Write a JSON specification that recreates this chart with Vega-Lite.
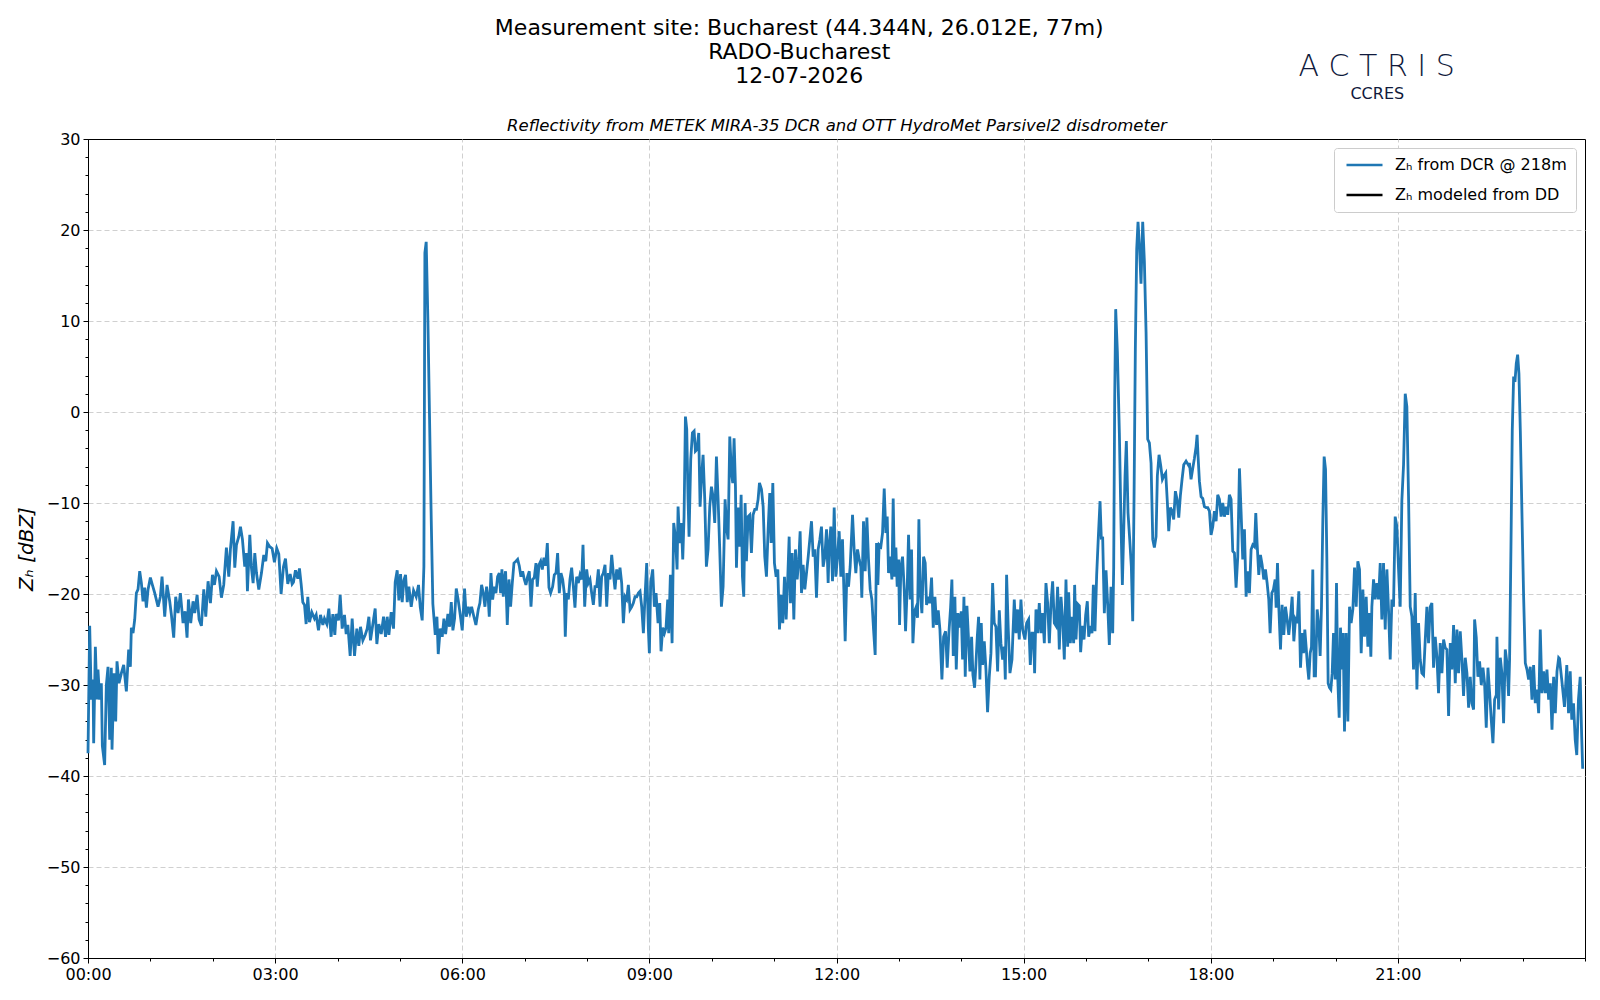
{
  "$schema": "https://vega.github.io/schema/vega-lite/v6.json",
  "width": 1497,
  "height": 819,
  "autosize": {"type": "none"},
  "padding": {"left": 88, "top": 139, "right": 15, "bottom": 42},
  "background": "white",
  "config": {
    "font": "DejaVu Sans",
    "view": {"stroke": "black", "strokeWidth": 1},
    "axis": {"labelFont": "DejaVu Sans", "titleFont": "DejaVu Sans", "labelColor": "black", "titleColor": "black", "domainColor": "black", "tickColor": "black"}
  },
  "title": {
    "text": ["Measurement site: Bucharest (44.344N, 26.012E, 77m)", "RADO-Bucharest", "12-07-2026"],
    "anchor": "middle",
    "frame": "bounds",
    "fontSize": 22,
    "fontWeight": "normal",
    "font": "DejaVu Sans",
    "color": "black",
    "lineHeight": 24,
    "offset": -36,
    "dx": -3
  },
  "data": {"values": [
{"h":0.000,"z":-37.5},{"h":0.027,"z":-23.5},{"h":0.053,"z":-31.6},{"h":0.080,"z":-29.4},{"h":0.091,"z":-36.4},{"h":0.118,"z":-25.8},{"h":0.144,"z":-31.6},{"h":0.160,"z":-28.3},{"h":0.187,"z":-31.6},{"h":0.214,"z":-29.8},{"h":0.230,"z":-36.7},{"h":0.267,"z":-38.8},{"h":0.294,"z":-30},{"h":0.321,"z":-28},{"h":0.348,"z":-36},{"h":0.374,"z":-28.1},{"h":0.385,"z":-37.1},{"h":0.417,"z":-28.7},{"h":0.444,"z":-34},{"h":0.465,"z":-27.4},{"h":0.497,"z":-29.8},{"h":0.535,"z":-28.7},{"h":0.572,"z":-27.8},{"h":0.615,"z":-30.7},{"h":0.652,"z":-26.1},{"h":0.679,"z":-28},{"h":0.695,"z":-23.7},{"h":0.722,"z":-24.3},{"h":0.749,"z":-22.8},{"h":0.775,"z":-19.9},{"h":0.802,"z":-19.5},{"h":0.829,"z":-17.5},{"h":0.856,"z":-18.8},{"h":0.882,"z":-20.8},{"h":0.909,"z":-19.3},{"h":0.936,"z":-21.5},{"h":0.963,"z":-19.5},{"h":1.000,"z":-18.2},{"h":1.032,"z":-19},{"h":1.070,"z":-19.9},{"h":1.123,"z":-21.4},{"h":1.160,"z":-20.3},{"h":1.187,"z":-18.1},{"h":1.230,"z":-22.5},{"h":1.267,"z":-19},{"h":1.310,"z":-20.8},{"h":1.337,"z":-22.3},{"h":1.374,"z":-24.8},{"h":1.406,"z":-20.3},{"h":1.444,"z":-22.1},{"h":1.481,"z":-19.9},{"h":1.524,"z":-23.2},{"h":1.556,"z":-21.9},{"h":1.588,"z":-24.8},{"h":1.610,"z":-20.6},{"h":1.647,"z":-23.2},{"h":1.684,"z":-20.8},{"h":1.711,"z":-22.1},{"h":1.749,"z":-20.1},{"h":1.781,"z":-22.8},{"h":1.818,"z":-23.5},{"h":1.856,"z":-19.5},{"h":1.888,"z":-22.5},{"h":1.925,"z":-18.6},{"h":1.963,"z":-21},{"h":1.995,"z":-17.9},{"h":2.027,"z":-19},{"h":2.059,"z":-17.5},{"h":2.102,"z":-18.1},{"h":2.139,"z":-20.4},{"h":2.176,"z":-19},{"h":2.219,"z":-14.9},{"h":2.257,"z":-18.1},{"h":2.283,"z":-15.1},{"h":2.326,"z":-12},{"h":2.353,"z":-17.1},{"h":2.380,"z":-14.6},{"h":2.417,"z":-13.7},{"h":2.444,"z":-12.6},{"h":2.476,"z":-14},{"h":2.513,"z":-17},{"h":2.540,"z":-15.5},{"h":2.556,"z":-19.7},{"h":2.594,"z":-13.5},{"h":2.620,"z":-17.1},{"h":2.647,"z":-18.8},{"h":2.674,"z":-15.5},{"h":2.701,"z":-17.7},{"h":2.738,"z":-19.5},{"h":2.781,"z":-17.7},{"h":2.818,"z":-15.7},{"h":2.850,"z":-16.4},{"h":2.877,"z":-14.4},{"h":2.914,"z":-14.8},
{"h":2.952,"z":-15},{"h":2.989,"z":-16.5},{"h":3.027,"z":-15},{"h":3.059,"z":-15.6},{"h":3.096,"z":-20},{"h":3.134,"z":-17},{"h":3.166,"z":-16.1},{"h":3.203,"z":-18.9},{"h":3.241,"z":-17.8},{"h":3.273,"z":-18.9},{"h":3.294,"z":-18.7},{"h":3.326,"z":-17.4},{"h":3.364,"z":-18.3},{"h":3.390,"z":-17.2},{"h":3.417,"z":-18.9},{"h":3.444,"z":-20.9},{"h":3.471,"z":-21.2},{"h":3.497,"z":-23.3},{"h":3.524,"z":-20.3},{"h":3.551,"z":-23.1},{"h":3.588,"z":-22},{"h":3.631,"z":-22.7},{"h":3.658,"z":-22.3},{"h":3.695,"z":-24},{"h":3.727,"z":-22.3},{"h":3.765,"z":-23.4},{"h":3.791,"z":-22.7},{"h":3.829,"z":-23.3},{"h":3.861,"z":-21.6},{"h":3.898,"z":-24.7},{"h":3.925,"z":-22.2},{"h":3.957,"z":-24.5},{"h":3.979,"z":-22.2},{"h":4.016,"z":-22.9},{"h":4.043,"z":-20.1},{"h":4.075,"z":-23.8},{"h":4.112,"z":-22.3},{"h":4.139,"z":-24.4},{"h":4.166,"z":-23.4},{"h":4.203,"z":-26.8},{"h":4.235,"z":-22.7},{"h":4.273,"z":-26.8},{"h":4.310,"z":-23.8},{"h":4.342,"z":-25.7},{"h":4.369,"z":-23.6},{"h":4.406,"z":-25.1},{"h":4.444,"z":-24.5},{"h":4.476,"z":-23.8},{"h":4.503,"z":-22.5},{"h":4.529,"z":-25.1},{"h":4.567,"z":-23.3},{"h":4.604,"z":-21.6},{"h":4.631,"z":-25.5},{"h":4.663,"z":-23.3},{"h":4.701,"z":-24.4},{"h":4.738,"z":-22.5},{"h":4.770,"z":-24.7},{"h":4.797,"z":-22.5},{"h":4.824,"z":-24.5},{"h":4.861,"z":-22},{"h":4.898,"z":-23.8},{"h":4.925,"z":-18.7},{"h":4.957,"z":-17.4},{"h":4.984,"z":-20.7},{"h":5.011,"z":-17.8},{"h":5.037,"z":-20.9},{"h":5.064,"z":-18.5},{"h":5.091,"z":-17.9},{"h":5.118,"z":-20.9},{"h":5.144,"z":-19.2},{"h":5.182,"z":-21.4},{"h":5.219,"z":-19.6},{"h":5.262,"z":-20.3},{"h":5.299,"z":-19},{"h":5.326,"z":-21.4},{"h":5.358,"z":-22.9},{"h":5.385,"z":-17},{"h":5.401,"z":17.5},{"h":5.422,"z":18.7},{"h":5.449,"z":10.2},{"h":5.476,"z":-0.8},{"h":5.503,"z":-11.9},{"h":5.529,"z":-21.1},{"h":5.567,"z":-24.5},{"h":5.594,"z":-22.5},{"h":5.615,"z":-26.6},{"h":5.647,"z":-23.8},{"h":5.679,"z":-24.7},{"h":5.706,"z":-22.7},{"h":5.733,"z":-24.4},{"h":5.770,"z":-22.2},{"h":5.797,"z":-23.6},{"h":5.824,"z":-20.9},{"h":5.850,"z":-24},{"h":5.877,"z":-22.7},{"h":5.904,"z":-19.4},{"h":5.936,"z":-20.7},{"h":5.968,"z":-22.3},{"h":6.000,"z":-24},{"h":6.037,"z":-19.4},{"h":6.064,"z":-22.5},{"h":6.096,"z":-21.4},
{"h":6.123,"z":-22.1},{"h":6.150,"z":-21.4},{"h":6.187,"z":-22.5},{"h":6.219,"z":-23.4},{"h":6.257,"z":-21.7},{"h":6.283,"z":-21},{"h":6.310,"z":-19},{"h":6.337,"z":-19.9},{"h":6.364,"z":-21.4},{"h":6.390,"z":-19.2},{"h":6.417,"z":-20.6},{"h":6.433,"z":-22.5},{"h":6.460,"z":-17.7},{"h":6.487,"z":-20.6},{"h":6.513,"z":-19.2},{"h":6.540,"z":-19.9},{"h":6.567,"z":-18.1},{"h":6.594,"z":-17.7},{"h":6.615,"z":-19.9},{"h":6.636,"z":-17.3},{"h":6.658,"z":-20.3},{"h":6.674,"z":-18.4},{"h":6.695,"z":-17.5},{"h":6.722,"z":-23.4},{"h":6.749,"z":-18.4},{"h":6.775,"z":-21.4},{"h":6.802,"z":-18.8},{"h":6.829,"z":-16.6},{"h":6.861,"z":-16.4},{"h":6.888,"z":-16.2},{"h":6.914,"z":-16.9},{"h":6.941,"z":-18.1},{"h":6.968,"z":-17.5},{"h":6.995,"z":-18.4},{"h":7.021,"z":-19},{"h":7.048,"z":-18.1},{"h":7.075,"z":-17.5},{"h":7.102,"z":-21.4},{"h":7.128,"z":-18.4},{"h":7.155,"z":-18.2},{"h":7.182,"z":-16.6},{"h":7.203,"z":-19.2},{"h":7.230,"z":-16.8},{"h":7.257,"z":-16.4},{"h":7.283,"z":-17.3},{"h":7.310,"z":-16},{"h":7.337,"z":-16.9},{"h":7.364,"z":-14.4},{"h":7.390,"z":-19.3},{"h":7.417,"z":-19.9},{"h":7.449,"z":-19.2},{"h":7.476,"z":-17.9},{"h":7.503,"z":-17.7},{"h":7.529,"z":-15.5},{"h":7.556,"z":-19.9},{"h":7.583,"z":-17.7},{"h":7.610,"z":-18.4},{"h":7.636,"z":-19.9},{"h":7.652,"z":-24.7},{"h":7.674,"z":-19.9},{"h":7.701,"z":-20.6},{"h":7.727,"z":-18.4},{"h":7.754,"z":-17.1},{"h":7.781,"z":-19.2},{"h":7.807,"z":-21.5},{"h":7.834,"z":-18.1},{"h":7.861,"z":-18.8},{"h":7.888,"z":-17.9},{"h":7.914,"z":-18.4},{"h":7.936,"z":-14.6},{"h":7.963,"z":-21.4},{"h":7.995,"z":-17.3},{"h":8.021,"z":-18.8},{"h":8.048,"z":-18.4},{"h":8.075,"z":-19.9},{"h":8.102,"z":-21.2},{"h":8.128,"z":-19.2},{"h":8.155,"z":-19.2},{"h":8.182,"z":-17.3},{"h":8.209,"z":-21.4},{"h":8.235,"z":-18.1},{"h":8.262,"z":-17.7},{"h":8.289,"z":-16.8},{"h":8.316,"z":-21.4},{"h":8.342,"z":-17.7},{"h":8.369,"z":-18.4},{"h":8.396,"z":-15.7},{"h":8.422,"z":-17.7},{"h":8.449,"z":-19.5},{"h":8.476,"z":-17.3},{"h":8.503,"z":-18.4},{"h":8.529,"z":-17.1},{"h":8.556,"z":-18.8},{"h":8.583,"z":-23.2},{"h":8.610,"z":-20.3},{"h":8.636,"z":-20.6},{"h":8.663,"z":-19},{"h":8.690,"z":-21.7},{"h":8.717,"z":-21.4},{"h":8.743,"z":-21},{"h":8.770,"z":-20.3},{"h":8.797,"z":-20.3},{"h":8.824,"z":-19.9},{"h":8.850,"z":-19.7},{"h":8.877,"z":-21.4},{"h":8.904,"z":-24.3},{"h":8.930,"z":-20.3},{"h":8.957,"z":-16.6},{"h":8.984,"z":-23.9},
{"h":9.000,"z":-26.5},{"h":9.021,"z":-18.8},{"h":9.053,"z":-17.3},{"h":9.080,"z":-21.4},{"h":9.107,"z":-19.9},{"h":9.139,"z":-23.2},{"h":9.166,"z":-21},{"h":9.187,"z":-26.3},{"h":9.214,"z":-23.7},{"h":9.241,"z":-24.3},{"h":9.267,"z":-23.7},{"h":9.294,"z":-20.6},{"h":9.310,"z":-24.3},{"h":9.337,"z":-17.9},{"h":9.364,"z":-25.4},{"h":9.390,"z":-12.2},{"h":9.417,"z":-13.7},{"h":9.444,"z":-17.3},{"h":9.460,"z":-10.4},{"h":9.487,"z":-14.4},{"h":9.513,"z":-12.2},{"h":9.535,"z":-16.2},{"h":9.556,"z":-11.5},{"h":9.578,"z":-0.5},{"h":9.599,"z":-1.9},{"h":9.620,"z":-9.6},{"h":9.636,"z":-13.7},{"h":9.663,"z":-5.2},{"h":9.690,"z":-2.3},{"h":9.717,"z":-2.1},{"h":9.738,"z":-4.3},{"h":9.765,"z":-4.1},{"h":9.791,"z":-2.3},{"h":9.813,"z":-10.4},{"h":9.840,"z":-6.7},{"h":9.861,"z":-4.7},{"h":9.888,"z":-9.6},{"h":9.914,"z":-17},{"h":9.941,"z":-15.1},{"h":9.968,"z":-10.4},{"h":9.995,"z":-8.2},{"h":10.021,"z":-9.3},{"h":10.048,"z":-12.2},{"h":10.075,"z":-4.9},{"h":10.102,"z":-9.6},{"h":10.128,"z":-15.1},{"h":10.155,"z":-21.4},{"h":10.182,"z":-19.2},{"h":10.214,"z":-9.6},{"h":10.241,"z":-12.9},{"h":10.262,"z":-14},{"h":10.289,"z":-2.7},{"h":10.316,"z":-6.7},{"h":10.337,"z":-7.8},{"h":10.358,"z":-2.9},{"h":10.380,"z":-8.2},{"h":10.396,"z":-17.1},{"h":10.422,"z":-10.5},{"h":10.449,"z":-14.8},{"h":10.471,"z":-9.1},{"h":10.492,"z":-18.1},{"h":10.513,"z":-20.3},{"h":10.535,"z":-10},{"h":10.556,"z":-16.4},{"h":10.583,"z":-11.5},{"h":10.610,"z":-11.3},{"h":10.636,"z":-15.5},{"h":10.663,"z":-11.3},{"h":10.690,"z":-10.7},{"h":10.717,"z":-10.7},{"h":10.743,"z":-9.6},{"h":10.765,"z":-7.8},{"h":10.797,"z":-8.5},{"h":10.824,"z":-10.4},{"h":10.850,"z":-15.9},{"h":10.877,"z":-18.1},{"h":10.904,"z":-12.9},{"h":10.930,"z":-8.9},{"h":10.952,"z":-14.4},{"h":10.979,"z":-7.8},{"h":11.005,"z":-16.6},{"h":11.032,"z":-18.1},{"h":11.059,"z":-17.3},{"h":11.086,"z":-23.9},{"h":11.112,"z":-20.1},{"h":11.139,"z":-23.2},{"h":11.166,"z":-18.1},{"h":11.193,"z":-22.8},{"h":11.219,"z":-18.1},{"h":11.241,"z":-13.7},{"h":11.262,"z":-21},{"h":11.289,"z":-15.5},{"h":11.316,"z":-22.8},{"h":11.342,"z":-15.1},{"h":11.369,"z":-18.4},{"h":11.396,"z":-16.2},{"h":11.417,"z":-13.1},{"h":11.439,"z":-19.9},{"h":11.465,"z":-16.8},{"h":11.492,"z":-19.5},{"h":11.519,"z":-17.7},{"h":11.545,"z":-16},{"h":11.572,"z":-14},{"h":11.599,"z":-12},{"h":11.626,"z":-15.9},{"h":11.652,"z":-15.1},{"h":11.679,"z":-20.4},{"h":11.706,"z":-15.1},{"h":11.733,"z":-14},{"h":11.759,"z":-12.6},{"h":11.786,"z":-17},{"h":11.813,"z":-15.9},{"h":11.840,"z":-12.9},{"h":11.866,"z":-18.8},
{"h":11.882,"z":-14.8},{"h":11.909,"z":-12.6},{"h":11.936,"z":-18.6},{"h":11.963,"z":-10.5},{"h":11.989,"z":-18.1},{"h":12.016,"z":-15.9},{"h":12.043,"z":-13.1},{"h":12.070,"z":-18.1},{"h":12.096,"z":-14},{"h":12.118,"z":-19.5},{"h":12.139,"z":-25.2},{"h":12.166,"z":-17.7},{"h":12.193,"z":-19.2},{"h":12.219,"z":-17},{"h":12.257,"z":-11.3},{"h":12.283,"z":-15.1},{"h":12.310,"z":-17.7},{"h":12.337,"z":-15.1},{"h":12.364,"z":-16.2},{"h":12.390,"z":-17},{"h":12.406,"z":-20.4},{"h":12.433,"z":-12},{"h":12.460,"z":-17.5},{"h":12.487,"z":-11.6},{"h":12.513,"z":-16.2},{"h":12.540,"z":-19.5},{"h":12.567,"z":-20.6},{"h":12.594,"z":-23.9},{"h":12.620,"z":-26.7},{"h":12.642,"z":-14.4},{"h":12.663,"z":-19},{"h":12.684,"z":-14.6},{"h":12.711,"z":-14.8},{"h":12.738,"z":-13.3},{"h":12.765,"z":-8.4},{"h":12.791,"z":-13.3},{"h":12.813,"z":-11.5},{"h":12.834,"z":-17.7},{"h":12.861,"z":-15.9},{"h":12.888,"z":-18.4},{"h":12.909,"z":-9.5},{"h":12.930,"z":-18.1},{"h":12.952,"z":-14.9},{"h":12.973,"z":-19.2},{"h":12.995,"z":-16.2},{"h":13.011,"z":-23.4},{"h":13.032,"z":-17},{"h":13.059,"z":-15.9},{"h":13.086,"z":-19.5},{"h":13.107,"z":-24.1},{"h":13.134,"z":-19.2},{"h":13.155,"z":-13.5},{"h":13.182,"z":-20.6},{"h":13.203,"z":-15.1},{"h":13.225,"z":-25.4},{"h":13.251,"z":-21.9},{"h":13.273,"z":-21.5},{"h":13.299,"z":-22.6},{"h":13.321,"z":-11.8},{"h":13.342,"z":-19.7},{"h":13.369,"z":-22.1},{"h":13.396,"z":-15.9},{"h":13.422,"z":-16.6},{"h":13.444,"z":-21.2},{"h":13.471,"z":-20.3},{"h":13.497,"z":-21},{"h":13.524,"z":-18.2},{"h":13.551,"z":-23.7},{"h":13.578,"z":-20.3},{"h":13.604,"z":-23.4},{"h":13.631,"z":-21.8},{"h":13.658,"z":-23.9},{"h":13.690,"z":-29.4},{"h":13.717,"z":-24.7},{"h":13.749,"z":-24.1},{"h":13.775,"z":-28.1},{"h":13.802,"z":-24.3},{"h":13.829,"z":-21.5},{"h":13.850,"z":-18.4},{"h":13.872,"z":-26.8},{"h":13.898,"z":-20.3},{"h":13.920,"z":-28.3},{"h":13.947,"z":-22.1},{"h":13.973,"z":-23.7},{"h":14.000,"z":-21.9},{"h":14.021,"z":-27.2},{"h":14.043,"z":-20.3},{"h":14.064,"z":-29.1},{"h":14.091,"z":-21.3},{"h":14.112,"z":-24.3},{"h":14.139,"z":-28.5},{"h":14.166,"z":-24.7},{"h":14.187,"z":-28.9},{"h":14.214,"z":-30.3},{"h":14.235,"z":-27.7},{"h":14.257,"z":-24.7},{"h":14.278,"z":-22.5},{"h":14.299,"z":-29.4},{"h":14.321,"z":-23.2},{"h":14.342,"z":-27.8},{"h":14.369,"z":-25.2},{"h":14.396,"z":-28.3},{"h":14.422,"z":-33},{"h":14.449,"z":-29.1},{"h":14.476,"z":-26.5},{"h":14.503,"z":-18.8},{"h":14.529,"z":-23.2},{"h":14.556,"z":-23.6},{"h":14.583,"z":-28.5},{"h":14.610,"z":-21.8},{"h":14.636,"z":-25.4},{"h":14.663,"z":-27.2},{"h":14.690,"z":-25.8},{"h":14.706,"z":-29.4},{"h":14.727,"z":-17.9},{"h":14.754,"z":-23.9},
{"h":14.781,"z":-28.7},{"h":14.813,"z":-27.2},{"h":14.850,"z":-20.6},{"h":14.877,"z":-24.3},{"h":14.904,"z":-21.7},{"h":14.930,"z":-25},{"h":14.957,"z":-20.6},{"h":14.984,"z":-23.9},{"h":15.021,"z":-25},{"h":15.048,"z":-23.2},{"h":15.080,"z":-22.8},{"h":15.107,"z":-27.8},{"h":15.134,"z":-24.3},{"h":15.160,"z":-24.3},{"h":15.176,"z":-28.7},{"h":15.198,"z":-21.7},{"h":15.225,"z":-24.3},{"h":15.251,"z":-21},{"h":15.278,"z":-24.3},{"h":15.305,"z":-22.1},{"h":15.332,"z":-25.4},{"h":15.358,"z":-18.8},{"h":15.385,"z":-21},{"h":15.412,"z":-25.4},{"h":15.439,"z":-21},{"h":15.465,"z":-18.6},{"h":15.492,"z":-23.2},{"h":15.519,"z":-23.5},{"h":15.545,"z":-19.2},{"h":15.572,"z":-26.1},{"h":15.599,"z":-20.3},{"h":15.626,"z":-22.8},{"h":15.652,"z":-27.2},{"h":15.679,"z":-18.4},{"h":15.706,"z":-25.8},{"h":15.722,"z":-19.8},{"h":15.749,"z":-25.4},{"h":15.775,"z":-22.5},{"h":15.802,"z":-25.4},{"h":15.818,"z":-19},{"h":15.840,"z":-25},{"h":15.866,"z":-21.1},{"h":15.893,"z":-21.3},{"h":15.914,"z":-26.4},{"h":15.941,"z":-23.5},{"h":15.968,"z":-25},{"h":15.995,"z":-22.3},{"h":16.021,"z":-20.8},{"h":16.043,"z":-24.7},{"h":16.070,"z":-23.5},{"h":16.096,"z":-24.3},{"h":16.118,"z":-19},{"h":16.144,"z":-24.1},{"h":16.171,"z":-17.9},{"h":16.198,"z":-13.7},{"h":16.225,"z":-9.8},{"h":16.246,"z":-14},{"h":16.267,"z":-13.7},{"h":16.294,"z":-22.1},{"h":16.321,"z":-17.4},{"h":16.348,"z":-21.2},{"h":16.374,"z":-25.6},{"h":16.401,"z":-19.2},{"h":16.428,"z":-24.3},{"h":16.444,"z":-17},{"h":16.460,"z":1.4},{"h":16.476,"z":11.3},{"h":16.503,"z":6.6},{"h":16.535,"z":-2.3},{"h":16.561,"z":-12.2},{"h":16.583,"z":-19},{"h":16.604,"z":-13.3},{"h":16.626,"z":-7},{"h":16.647,"z":-3.2},{"h":16.674,"z":-11.1},{"h":16.701,"z":-14},{"h":16.727,"z":-17},{"h":16.749,"z":-23},{"h":16.770,"z":-9.6},{"h":16.791,"z":6.9},{"h":16.813,"z":17.9},{"h":16.834,"z":20.9},{"h":16.856,"z":18.3},{"h":16.882,"z":14.1},{"h":16.909,"z":20.9},{"h":16.936,"z":16.5},{"h":16.963,"z":8.8},{"h":16.989,"z":-3},{"h":17.016,"z":-3.4},{"h":17.043,"z":-5.6},{"h":17.070,"z":-14},{"h":17.096,"z":-14.9},{"h":17.123,"z":-13.7},{"h":17.144,"z":-7},{"h":17.171,"z":-4.7},{"h":17.198,"z":-5.9},{"h":17.225,"z":-7.4},{"h":17.251,"z":-7},{"h":17.278,"z":-6.7},{"h":17.305,"z":-10},{"h":17.326,"z":-13.1},{"h":17.353,"z":-10.5},{"h":17.380,"z":-10.9},{"h":17.406,"z":-11.8},{"h":17.433,"z":-8.7},{"h":17.460,"z":-9.6},{"h":17.487,"z":-11.6},{"h":17.513,"z":-9.2},{"h":17.540,"z":-7.4},{"h":17.567,"z":-5.8},{"h":17.604,"z":-5.4},{"h":17.647,"z":-5.9},
{"h":17.658,"z":-5.6},{"h":17.684,"z":-7.4},{"h":17.711,"z":-6.2},{"h":17.738,"z":-5.1},{"h":17.765,"z":-3.8},{"h":17.781,"z":-2.5},{"h":17.797,"z":-4.9},{"h":17.818,"z":-7.6},{"h":17.845,"z":-9.3},{"h":17.872,"z":-9.5},{"h":17.898,"z":-10.4},{"h":17.925,"z":-10.5},{"h":17.952,"z":-10.5},{"h":17.979,"z":-10.9},{"h":18.005,"z":-13.5},{"h":18.032,"z":-12.6},{"h":18.059,"z":-10.9},{"h":18.086,"z":-12},{"h":18.112,"z":-9.1},{"h":18.139,"z":-9.6},{"h":18.166,"z":-11.5},{"h":18.193,"z":-10},{"h":18.219,"z":-11.5},{"h":18.246,"z":-10.4},{"h":18.273,"z":-11.3},{"h":18.299,"z":-9.1},{"h":18.326,"z":-9.6},{"h":18.353,"z":-15.3},{"h":18.380,"z":-15.5},{"h":18.406,"z":-19.3},{"h":18.433,"z":-15.9},{"h":18.460,"z":-6.2},{"h":18.487,"z":-11.1},{"h":18.513,"z":-16.2},{"h":18.540,"z":-12.9},{"h":18.567,"z":-20.3},{"h":18.594,"z":-17.5},{"h":18.620,"z":-19.9},{"h":18.647,"z":-15.1},{"h":18.674,"z":-14.6},{"h":18.701,"z":-14.8},{"h":18.722,"z":-11.1},{"h":18.743,"z":-14.4},{"h":18.770,"z":-17.9},{"h":18.797,"z":-15.7},{"h":18.824,"z":-16.8},{"h":18.850,"z":-18.4},{"h":18.877,"z":-17.3},{"h":18.904,"z":-18.8},{"h":18.930,"z":-20.6},{"h":18.952,"z":-24.3},{"h":18.979,"z":-19.9},{"h":19.005,"z":-19.5},{"h":19.032,"z":-18.4},{"h":19.048,"z":-21.5},{"h":19.070,"z":-16.6},{"h":19.091,"z":-21.4},{"h":19.118,"z":-26.1},{"h":19.144,"z":-21.2},{"h":19.171,"z":-24.5},{"h":19.198,"z":-21.4},{"h":19.225,"z":-22.8},{"h":19.251,"z":-24.5},{"h":19.278,"z":-22.6},{"h":19.305,"z":-20.3},{"h":19.332,"z":-25.2},{"h":19.358,"z":-22.8},{"h":19.385,"z":-23.2},{"h":19.412,"z":-19.7},{"h":19.439,"z":-28.1},{"h":19.465,"z":-24.3},{"h":19.487,"z":-26.5},{"h":19.508,"z":-23.9},{"h":19.529,"z":-25.8},{"h":19.551,"z":-27.9},{"h":19.572,"z":-29.4},{"h":19.594,"z":-26.5},{"h":19.615,"z":-25.8},{"h":19.636,"z":-17.3},{"h":19.658,"z":-29},{"h":19.679,"z":-29},{"h":19.706,"z":-21.7},{"h":19.733,"z":-23.6},{"h":19.754,"z":-26.8},{"h":19.775,"z":-21.4},{"h":19.797,"z":-11.8},{"h":19.818,"z":-4.9},{"h":19.840,"z":-6.3},{"h":19.861,"z":-15.9},{"h":19.882,"z":-29.8},{"h":19.904,"z":-30.3},{"h":19.925,"z":-30.5},{"h":19.947,"z":-28.7},{"h":19.968,"z":-24.3},{"h":19.995,"z":-29.4},{"h":20.016,"z":-18.8},{"h":20.037,"z":-29.4},{"h":20.059,"z":-33.6},{"h":20.080,"z":-23.7},{"h":20.102,"z":-28.3},{"h":20.123,"z":-24.3},{"h":20.144,"z":-35.1},{"h":20.171,"z":-24.3},{"h":20.198,"z":-34},{"h":20.225,"z":-21.4},{"h":20.251,"z":-23.2},{"h":20.278,"z":-21.7},{"h":20.305,"z":-17.1},{"h":20.332,"z":-21.4},{"h":20.358,"z":-16.4},{"h":20.385,"z":-17.3},{"h":20.412,"z":-26.5},{"h":20.439,"z":-19.5},{"h":20.465,"z":-24.7},{"h":20.492,"z":-20.3},{"h":20.519,"z":-25.8},
{"h":20.545,"z":-22.1},{"h":20.567,"z":-26.9},{"h":20.583,"z":-21.4},{"h":20.610,"z":-18.4},{"h":20.636,"z":-20.6},{"h":20.663,"z":-18.8},{"h":20.690,"z":-20.6},{"h":20.717,"z":-16.6},{"h":20.743,"z":-22.8},{"h":20.770,"z":-16.6},{"h":20.797,"z":-23.9},{"h":20.824,"z":-17.3},{"h":20.850,"z":-21.7},{"h":20.877,"z":-27.2},{"h":20.904,"z":-20.6},{"h":20.930,"z":-21.4},{"h":20.957,"z":-11.5},{"h":20.984,"z":-12.6},{"h":21.011,"z":-17.3},{"h":21.037,"z":-21.4},{"h":21.064,"z":-9.7},{"h":21.091,"z":-5.8},{"h":21.118,"z":2.0},{"h":21.144,"z":0.6},{"h":21.171,"z":-9.3},{"h":21.198,"z":-21.4},{"h":21.225,"z":-22.5},{"h":21.251,"z":-28.3},{"h":21.278,"z":-19.9},{"h":21.305,"z":-30.5},{"h":21.332,"z":-23.2},{"h":21.358,"z":-27.2},{"h":21.385,"z":-28.7},{"h":21.412,"z":-28.9},{"h":21.439,"z":-25},{"h":21.465,"z":-21.4},{"h":21.492,"z":-25.4},{"h":21.519,"z":-21.4},{"h":21.545,"z":-21},{"h":21.572,"z":-28.1},{"h":21.599,"z":-24.7},{"h":21.626,"z":-26.9},{"h":21.652,"z":-30.9},{"h":21.679,"z":-25.4},{"h":21.706,"z":-28.7},{"h":21.733,"z":-25},{"h":21.759,"z":-25.9},{"h":21.786,"z":-26.1},{"h":21.813,"z":-33.4},{"h":21.840,"z":-25.4},{"h":21.866,"z":-28.3},{"h":21.893,"z":-23.4},{"h":21.920,"z":-29.8},{"h":21.947,"z":-23.9},{"h":21.973,"z":-28.7},{"h":22.000,"z":-24.1},{"h":22.027,"z":-27.2},{"h":22.053,"z":-31.2},{"h":22.080,"z":-27},{"h":22.107,"z":-28.7},{"h":22.134,"z":-32.5},{"h":22.160,"z":-29.1},{"h":22.187,"z":-32},{"h":22.214,"z":-32.7},{"h":22.230,"z":-22.8},{"h":22.257,"z":-24.8},{"h":22.283,"z":-29.1},{"h":22.310,"z":-27.4},{"h":22.337,"z":-30},{"h":22.364,"z":-28.1},{"h":22.390,"z":-29.8},{"h":22.417,"z":-34.7},{"h":22.444,"z":-28.1},{"h":22.471,"z":-30.9},{"h":22.497,"z":-33.8},{"h":22.524,"z":-36.4},{"h":22.551,"z":-31.6},{"h":22.578,"z":-31.1},{"h":22.588,"z":-24.7},{"h":22.615,"z":-32.7},{"h":22.642,"z":-27},{"h":22.668,"z":-28.7},{"h":22.695,"z":-34.2},{"h":22.722,"z":-26.1},{"h":22.749,"z":-27.6},{"h":22.775,"z":-31.2},{"h":22.791,"z":-27.2},{"h":22.813,"z":-14.8},{"h":22.834,"z":-2.0},{"h":22.856,"z":3.9},{"h":22.877,"z":3.3},{"h":22.898,"z":5.3},{"h":22.920,"z":6.3},{"h":22.941,"z":4.2},{"h":22.963,"z":-2.0},{"h":22.989,"z":-11.1},{"h":23.016,"z":-20.3},{"h":23.043,"z":-27.6},{"h":23.070,"z":-28.3},{"h":23.096,"z":-29.4},{"h":23.123,"z":-28},{"h":23.150,"z":-31.6},{"h":23.176,"z":-27.8},{"h":23.203,"z":-32},{"h":23.230,"z":-30.5},{"h":23.257,"z":-33.1},{"h":23.283,"z":-23.9},{"h":23.310,"z":-30.9},{"h":23.337,"z":-28.5},{"h":23.364,"z":-30.9},{"h":23.390,"z":-28.3},{"h":23.417,"z":-31.6},{"h":23.444,"z":-29.8},{"h":23.471,"z":-34.9},{"h":23.497,"z":-29.1},{"h":23.524,"z":-33.1},{"h":23.551,"z":-28.5},{"h":23.578,"z":-27},
{"h":23.591,"z":-27.1},{"h":23.628,"z":-29.5},{"h":23.671,"z":-32.4},{"h":23.708,"z":-27.8},{"h":23.736,"z":-33.1},{"h":23.763,"z":-28.5},{"h":23.788,"z":-33.8},{"h":23.816,"z":-32},{"h":23.843,"z":-36},{"h":23.868,"z":-37.7},{"h":23.895,"z":-31.6},{"h":23.923,"z":-29.1},{"h":23.947,"z":-35.7},{"h":23.963,"z":-39.2}
  ]},
  "layer": [
    {
      "mark": {"type": "line", "opacity": 0},
      "encoding": {
        "x": {
          "field": "h", "type": "quantitative",
          "scale": {"domain": [0, 24], "nice": false, "zero": false},
          "axis": {
            "orient": "top", "values": [3, 6, 9, 12, 15, 18, 21], "labels": false, "ticks": false, "domain": false,
            "grid": true, "gridDash": [5, 3], "gridColor": "#d0d0d0", "gridWidth": 1,
            "title": "Reflectivity from METEK MIRA-35 DCR and OTT HydroMet Parsivel2 disdrometer",
            "titleFontStyle": "italic", "titleFontSize": 16.5, "titleFontWeight": "normal", "titlePadding": 6
          }
        },
        "y": {
          "field": "z", "type": "quantitative",
          "scale": {"domain": [-60, 30], "nice": false, "zero": false},
          "axis": {
            "orient": "left", "values": [-50, -40, -30, -20, -10, 0, 10, 20], "labels": false, "ticks": false, "domain": false,
            "grid": true, "gridDash": [5, 3], "gridColor": "#d0d0d0", "gridWidth": 1, "title": null
          }
        }
      }
    },
    {
      "mark": {"type": "line", "strokeWidth": 2.8, "interpolate": "linear"},
      "encoding": {
        "x": {
          "field": "h", "type": "quantitative",
          "axis": {
            "orient": "bottom", "values": [0, 3, 6, 9, 12, 15, 18, 21],
            "labelExpr": "(datum.value < 10 ? '0' : '') + datum.value + ':00'",
            "title": null, "grid": false,
            "tickSize": 5, "tickWidth": 1, "labelFontSize": 16, "labelPadding": 3, "domain": true, "domainWidth": 1, "labelFlush": false
          }
        },
        "y": {
          "field": "z", "type": "quantitative",
          "axis": {
            "orient": "left", "values": [-60, -50, -40, -30, -20, -10, 0, 10, 20, 30],
            "labelExpr": "datum.value < 0 ? '\u2212' + (-datum.value) : '' + datum.value",
            "title": "Zₕ [dBZ]", "titleFontStyle": "italic", "titleFontSize": 20, "titleFontWeight": "normal",
            "titlePadding": 10, "grid": false,
            "tickSize": 5, "tickWidth": 1, "labelFontSize": 16, "labelPadding": 3, "domain": true, "domainWidth": 1
          }
        },
        "color": {
          "datum": "Zₕ from DCR @ 218m",
          "type": "nominal",
          "scale": {"domain": ["Zₕ from DCR @ 218m", "Zₕ modeled from DD"], "range": ["#1f77b4", "#000000"]},
          "legend": {
            "title": null, "orient": "top-right", "offset": 9,
            "symbolType": "M-1,0H7", "symbolStrokeWidth": 2.5, "symbolSize": 81,
            "labelFontSize": 16, "labelFont": "DejaVu Sans", "labelColor": "black", "labelOffset": 36, "labelLimit": 400,
            "strokeColor": "#cccccc", "fillColor": "white", "padding": 9, "cornerRadius": 3, "rowPadding": 14
          }
        }
      }
    },
    {
      "mark": {"type": "line", "opacity": 0},
      "encoding": {
        "x": {
          "field": "h", "type": "quantitative",
          "axis": {
            "orient": "bottom", "values": [0,1,2,3,4,5,6,7,8,9,10,11,12,13,14,15,16,17,18,19,20,21,22,23,24],
            "labels": false, "title": null, "grid": false, "domain": false, "tickSize": 3, "tickWidth": 1
          }
        },
        "y": {
          "field": "z", "type": "quantitative",
          "axis": {
            "orient": "left", "values": [-60,-58,-56,-54,-52,-50,-48,-46,-44,-42,-40,-38,-36,-34,-32,-30,-28,-26,-24,-22,-20,-18,-16,-14,-12,-10,-8,-6,-4,-2,0,2,4,6,8,10,12,14,16,18,20,22,24,26,28,30],
            "labels": false, "title": null, "grid": false, "domain": false, "tickSize": 3, "tickWidth": 1
          }
        }
      }
    },
    {
      "data": {"values": [{}]},
      "mark": {"type": "text", "text": "A C T R I S", "fontSize": 30, "font": "DejaVu Sans", "fontWeight": 200, "color": "#101a3c", "baseline": "middle", "align": "center"},
      "encoding": {
        "x": {"datum": 20.66, "type": "quantitative", "axis": null},
        "y": {"datum": 37.9, "type": "quantitative", "axis": null}
      }
    },
    {
      "data": {"values": [{}]},
      "mark": {"type": "text", "text": "CCRES", "fontSize": 16, "font": "DejaVu Sans", "color": "#101a3c", "baseline": "middle", "align": "center"},
      "encoding": {
        "x": {"datum": 20.67, "type": "quantitative", "axis": null},
        "y": {"datum": 35.0, "type": "quantitative", "axis": null}
      }
    }
  ],
  "resolve": {"axis": {"x": "independent", "y": "independent"}}
}
